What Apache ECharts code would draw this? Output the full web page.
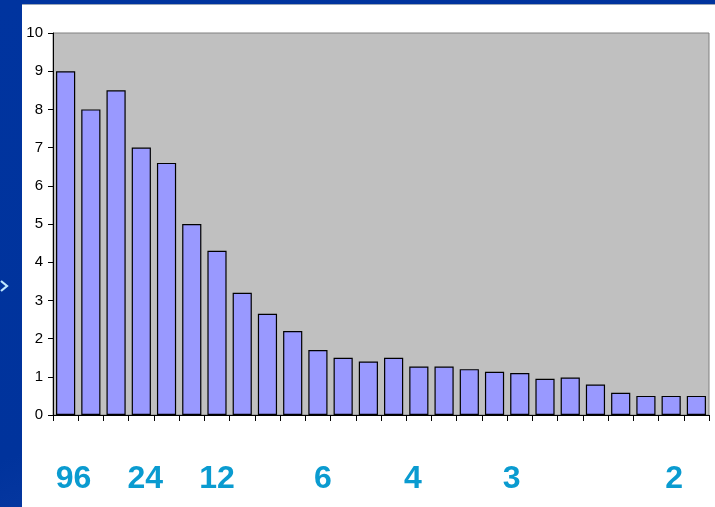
<!DOCTYPE html>
<html>
<head>
<meta charset="utf-8">
<script src="https://cdn.jsdelivr.net/npm/echarts@6/dist/echarts.min.js"></script>
<style>
  html, body { margin: 0; padding: 0; }
  body { width: 715px; height: 507px; overflow: hidden; position: relative;
         background: linear-gradient(160deg, #00349f 0%, #00339c 60%, #0a3aa3 75%, #00319a 100%); }
  #panel { position: absolute; left: 22px; top: 4px; width: 693px; height: 503px;
           background: #ffffff; border-top: 1px solid #9aa6b8; box-sizing: border-box; }
  #chev { position: absolute; left: 0; top: 279px; }
  #chart { position: absolute; left: 0; top: 0; width: 715px; height: 507px; }
</style>
</head>
<body>
<div id="panel"></div>
<svg id="chev" width="12" height="14"><polyline points="1,2 7,7 1,12" fill="none" stroke="#bfe8ff" stroke-width="2.2"/></svg>
<div id="chart"></div>
<script>
// 26 bars; only some positions carry a label underneath
const categories = ['c1','c2','c3','c4','c5','c6','c7','c8','c9','c10','c11','c12','c13',
                    'c14','c15','c16','c17','c18','c19','c20','c21','c22','c23','c24','c25','c26'];
const values = [9, 8, 8.5, 7, 6.6, 5, 4.3, 3.2, 2.65, 2.2, 1.7, 1.5, 1.4,
                1.5, 1.27, 1.27, 1.2, 1.13, 1.1, 0.95, 0.98, 0.8, 0.58, 0.5, 0.5, 0.5];
const bottomLabels = ['96','','','24','','','12','','','','6','','',
                      '','4','','','','3','','','','','','2',''];
const yTicks = [0, 1, 2, 3, 4, 5, 6, 7, 8, 9, 10];

// label text style; padding nudges each big label a little off its bar centre
const bigLabel = {
  color: '#0a9bd0',
  fontFamily: 'Liberation Sans, Arial, sans-serif',
  fontWeight: 'bold',
  fontSize: 32
};
const richStyles = {
  l96: Object.assign({ padding: [0, 0, 0, 16] }, bigLabel),
  l24: Object.assign({ padding: [0, 0, 0, 8] }, bigLabel),
  l12: Object.assign({ padding: [0, 0, 0, 0] }, bigLabel),
  l6:  Object.assign({ padding: [0, 0, 0, 10] }, bigLabel),
  l4:  Object.assign({ padding: [0, 12, 0, 0] }, bigLabel),
  l3:  Object.assign({ padding: [0, 16, 0, 0] }, bigLabel),
  l2:  Object.assign({ padding: [0, 0, 0, 6] }, bigLabel)
};

const chart = echarts.init(document.getElementById('chart'), null, { renderer: 'canvas' });
chart.setOption({
  backgroundColor: 'transparent',
  animation: false,
  grid: {
    left: 53, top: 33, right: 6, bottom: 92,
    show: true, backgroundColor: '#c0c0c0', borderColor: '#808080', borderWidth: 1
  },
  xAxis: {
    type: 'category',
    data: categories,
    boundaryGap: true,
    axisLine: { lineStyle: { color: '#000', width: 1 } },
    axisTick: { show: true, length: 6, interval: 0, lineStyle: { color: '#000' } },
    axisLabel: Object.assign({
      interval: 0,
      margin: 48,
      formatter: (v, i) => bottomLabels[i] ? '{l' + bottomLabels[i] + '|' + bottomLabels[i] + '}' : '',
      rich: richStyles
    }, bigLabel),
    splitLine: { show: false }
  },
  yAxis: {
    type: 'value',
    min: yTicks[0],
    max: yTicks[yTicks.length - 1],
    interval: 1,
    axisLine: { show: true, lineStyle: { color: '#000', width: 1 } },
    axisTick: { show: true, length: 5, lineStyle: { color: '#000' } },
    axisLabel: {
      margin: 10,
      color: '#000',
      fontFamily: 'Liberation Sans, Arial, sans-serif',
      fontSize: 15
    },
    splitLine: { show: false }
  },
  series: [{
    type: 'bar',
    data: values,
    barCategoryGap: '24%',
    itemStyle: { color: '#9999ff', borderColor: '#000', borderWidth: 1.2 },
    emphasis: { disabled: true }
  }]
});
</script>
</body>
</html>
